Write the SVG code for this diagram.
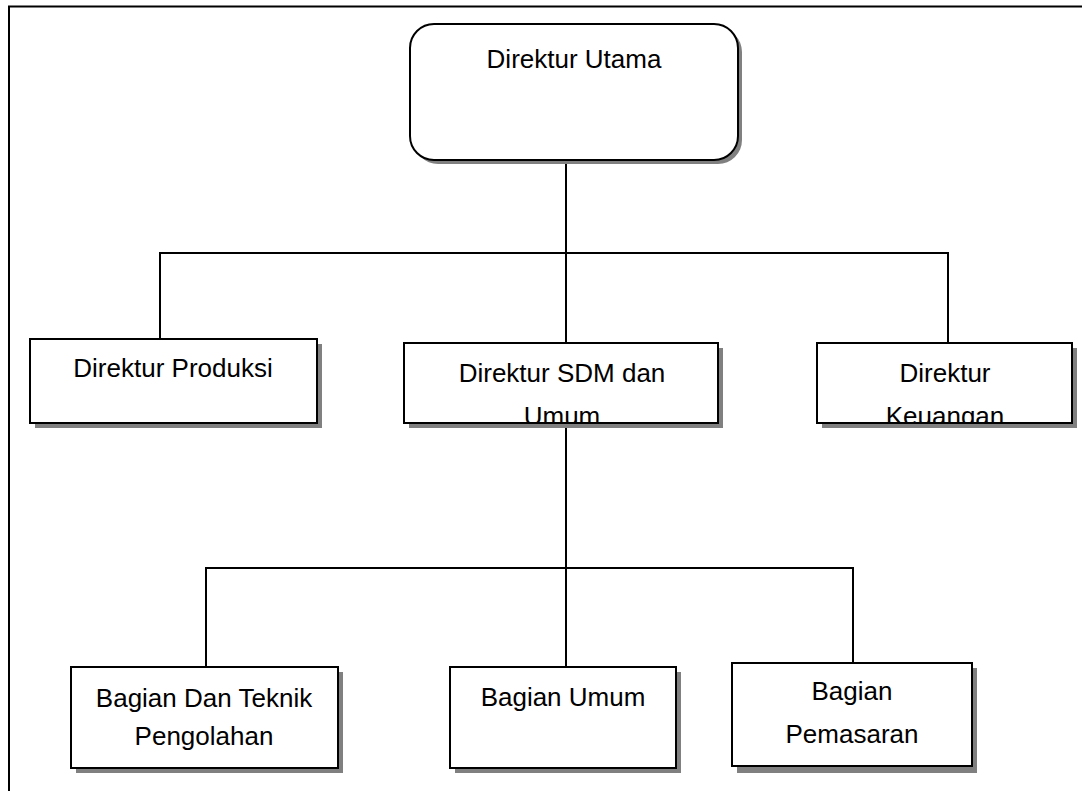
<svg xmlns="http://www.w3.org/2000/svg" width="1082" height="791" viewBox="0 0 1082 791">
<style>
.box{fill:#fff;stroke:#000;stroke-width:2}
.sh{fill:#808080}
.t{font-family:"Liberation Sans",Arial,sans-serif;font-size:26px;fill:#000;text-anchor:middle}
.c{fill:none;stroke:#000;stroke-width:2}
</style>
<defs>
<clipPath id="clipSdm"><rect x="405" y="344" width="312" height="78"/></clipPath>
<clipPath id="clipKeu"><rect x="818" y="344" width="253" height="78"/></clipPath>
</defs>
<rect x="0" y="0" width="1082" height="791" fill="#fff"/>
<g id="frame">
<path d="M9,791 V6.5 H1082" fill="none" stroke="#000" stroke-width="2"/>
</g>
<g id="connectors">
<path class="c" d="M566,160 V343"/>
<path class="c" d="M160,339 V253 H948 V343"/>
<path class="c" d="M566,423 V667"/>
<path class="c" d="M206,667 V568 H853 V663"/>
</g>
<g id="n-utama">
<rect class="sh" x="414" y="28" width="328" height="136" rx="24"/>
<rect class="box" x="410" y="24" width="328" height="136" rx="24"/>
<text class="t" x="574" y="68">Direktur Utama</text>
</g>
<g id="n-produksi">
<rect class="sh" x="35" y="344" width="287" height="84"/>
<rect class="box" x="30" y="339" width="287" height="84"/>
<text class="t" x="173" y="377">Direktur Produksi</text>
</g>
<g id="n-sdm">
<rect class="sh" x="409" y="348" width="314" height="80"/>
<rect class="box" x="404" y="343" width="314" height="80"/>
<text class="t" clip-path="url(#clipSdm)" x="562" y="382">Direktur SDM dan<tspan x="562" dy="43">Umum</tspan></text>
</g>
<g id="n-keuangan">
<rect class="sh" x="822" y="348" width="255" height="80"/>
<rect class="box" x="817" y="343" width="255" height="80"/>
<text class="t" clip-path="url(#clipKeu)" x="945" y="382">Direktur<tspan x="945" dy="43">Keuangan</tspan></text>
</g>
<g id="n-teknik">
<rect class="sh" x="76" y="672" width="267" height="101"/>
<rect class="box" x="71" y="667" width="267" height="101"/>
<text class="t" x="204" y="707">Bagian Dan Teknik<tspan x="204" dy="38">Pengolahan</tspan></text>
</g>
<g id="n-umum">
<rect class="sh" x="455" y="672" width="226" height="101"/>
<rect class="box" x="450" y="667" width="226" height="101"/>
<text class="t" x="563" y="706">Bagian Umum</text>
</g>
<g id="n-pemasaran">
<rect class="sh" x="737" y="668" width="240" height="105"/>
<rect class="box" x="732" y="663" width="240" height="103"/>
<text class="t" x="852" y="700">Bagian<tspan x="852" dy="43">Pemasaran</tspan></text>
</g>
</svg>
